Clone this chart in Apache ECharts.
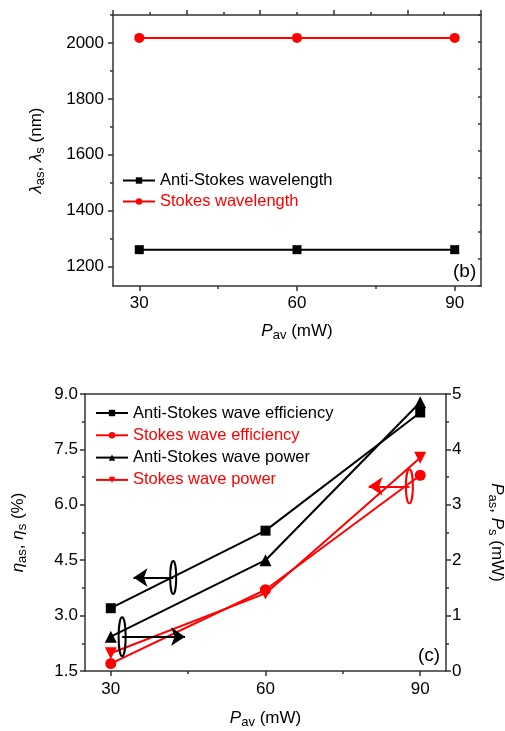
<!DOCTYPE html>
<html>
<head>
<meta charset="utf-8">
<script src="https://cdn.jsdelivr.net/npm/echarts@6/dist/echarts.min.js"></script>
<style>
  html, body { margin: 0; padding: 0; background: #fff; }
  #chart { width: 505px; height: 731px; }
</style>
</head>
<body>
<div id="chart"></div>
<script>
// Average pump power (mW)
const pav = [30, 60, 90];
// Panel (b): output wavelengths (nm)
const antiStokesWavelength = [1260, 1260, 1260];
const stokesWavelength = [2018, 2018, 2018];
// Panel (c): conversion efficiencies (%) and output powers (mW)
const antiStokesEfficiency = [3.2, 5.3, 8.5];
const stokesEfficiency = [1.7, 3.7, 6.8];
const antiStokesPower = [0.62, 2.0, 4.85];
const stokesPower = [0.32, 1.4, 3.85];
// Tick values
const pavTicks = [30, 60, 90];
const pavMinorTicks = [45, 75];
const wavelengthTicks = [1200, 1400, 1600, 1800, 2000];
const wavelengthMinorTicks = [1300, 1500, 1700, 1900, 2100];

const F = "'Liberation Sans', Arial, sans-serif";
const AX = '#333';
const RED = '#ff0000';
const zip = (xs, ys) => xs.map((x, i) => [x, ys[i]]);
const downTriangle = 'path://M0,0L10,0L5,9Z';

const nameRich = {
  i: { fontStyle: 'italic', fontSize: 17, fontFamily: F, color: '#000' },
  sub: { fontSize: 13, fontFamily: F, color: '#000', padding: [9, 0, 0, 0] },
  t: { fontSize: 17, fontFamily: F, color: '#000' }
};
const labelStyle = { fontSize: 17, fontFamily: F, color: '#000' };
const line = { show: true, lineStyle: { color: AX, width: 1.5 } };
const noLine = { show: false };
const noLabel = { show: false };
const noSplit = { show: false };

// Ellipse drawn around a pair of curves: value = [x, y, width px, height px]
function ellipseItem(color) {
  return function (params, api) {
    const c = api.coord([api.value(0), api.value(1)]);
    return {
      type: 'ellipse',
      shape: { cx: c[0], cy: c[1], rx: api.value(2) / 2, ry: api.value(3) / 2 },
      style: { fill: 'none', stroke: color, lineWidth: 2 }
    };
  };
}

const chart = echarts.init(document.getElementById('chart'), null, { renderer: 'canvas' });

chart.setOption({
  animation: false,
  backgroundColor: '#fff',
  grid: [
    { left: 113, top: 15, right: 24, height: 271, outerBoundsMode: 'none', containLabel: false },
    { left: 85, top: 394, width: 361, height: 277, outerBoundsMode: 'none', containLabel: false }
  ],
  title: [
    { text: '(b)', left: 448, top: 257, textStyle: { fontSize: 19, fontWeight: 'normal', fontFamily: F, color: '#000', lineHeight: 19 } },
    { text: '(c)', left: 413, top: 641, textStyle: { fontSize: 19, fontWeight: 'normal', fontFamily: F, color: '#000', lineHeight: 19 } }
  ],
  legend: [
    {
      data: [
        { name: 'Anti-Stokes wavelength', textStyle: { color: '#000' } },
        { name: 'Stokes wavelength', textStyle: { color: RED } }
      ],
      orient: 'vertical', left: 117, top: 167, itemWidth: 32, itemHeight: 8, itemGap: 4,
      textStyle: { fontSize: 16.5, fontFamily: F, lineHeight: 16 }
    },
    {
      data: [
        { name: 'Anti-Stokes wave efficiency', textStyle: { color: '#000' } },
        { name: 'Stokes wave efficiency', textStyle: { color: RED } },
        { name: 'Anti-Stokes wave power', textStyle: { color: '#000' } },
        { name: 'Stokes wave power', textStyle: { color: RED } }
      ],
      orient: 'vertical', left: 90, top: 399.5, itemWidth: 32, itemHeight: 8, itemGap: 5.3,
      textStyle: { fontSize: 16.5, fontFamily: F, lineHeight: 16 }
    }
  ],
  xAxis: [
    // panel (b) bottom axis
    {
      gridIndex: 0, type: 'value', position: 'bottom', min: 25, max: 95,
      axisLine: line, splitLine: noSplit,
      axisTick: { show: true, length: 5, customValues: pavTicks, lineStyle: { color: AX, width: 1.5 } },
      axisLabel: { customValues: pavTicks, margin: 9, ...labelStyle },
      name: '{i|P}{sub|av}{t| (mW)}', nameLocation: 'middle', nameGap: 34,
      nameTextStyle: { rich: nameRich }
    },
    {
      gridIndex: 0, type: 'value', position: 'bottom', min: 25, max: 95,
      axisLine: noLine, splitLine: noSplit, axisLabel: noLabel,
      axisTick: { show: true, length: 3, customValues: pavMinorTicks, lineStyle: { color: AX, width: 1.5 } }
    },
    // panel (b) top frame
    {
      gridIndex: 0, type: 'value', position: 'top', min: 0, max: 5, interval: 1,
      axisLine: line, splitLine: noSplit, axisLabel: noLabel,
      axisTick: { show: true, length: 5, lineStyle: { color: AX, width: 1.5 } },
      minorTick: { show: true, splitNumber: 2, length: 3, lineStyle: { color: AX, width: 1.5 } }
    },
    // panel (c) bottom axis
    {
      gridIndex: 1, type: 'value', position: 'bottom', min: 25, max: 95,
      axisLine: line, splitLine: noSplit,
      axisTick: { show: true, length: 5, customValues: pavTicks, lineStyle: { color: AX, width: 1.5 } },
      axisLabel: { customValues: pavTicks, margin: 10, ...labelStyle },
      name: '{i|P}{sub|av}{t| (mW)}', nameLocation: 'middle', nameGap: 36,
      nameTextStyle: { rich: nameRich }
    },
    {
      gridIndex: 1, type: 'value', position: 'bottom', min: 25, max: 95,
      axisLine: noLine, splitLine: noSplit, axisLabel: noLabel,
      axisTick: { show: true, length: 3, customValues: pavMinorTicks, lineStyle: { color: AX, width: 1.5 } }
    },
    // panel (c) top frame
    {
      gridIndex: 1, type: 'value', position: 'top', min: 0, max: 1,
      axisLine: line, splitLine: noSplit, axisLabel: noLabel, axisTick: { show: false }
    }
  ],
  yAxis: [
    // panel (b) wavelength axis
    {
      gridIndex: 0, type: 'value', position: 'left', min: 1130, max: 2100,
      axisLine: line, splitLine: noSplit,
      axisTick: { show: true, length: 5, customValues: wavelengthTicks, lineStyle: { color: AX, width: 1.5 } },
      axisLabel: { customValues: wavelengthTicks, margin: 9, formatter: v => String(v), ...labelStyle },
      name: '{i|λ}{sub|as}{t|, }{i|λ}{sub|s}{t| (nm)}', nameLocation: 'middle', nameGap: 66,
      nameTextStyle: { rich: nameRich }
    },
    {
      gridIndex: 0, type: 'value', position: 'left', min: 1130, max: 2100,
      axisLine: noLine, splitLine: noSplit, axisLabel: noLabel,
      axisTick: { show: true, length: 3, customValues: wavelengthMinorTicks, lineStyle: { color: AX, width: 1.5 } }
    },
    // panel (b) right frame
    {
      gridIndex: 0, type: 'value', position: 'right', min: 0, max: 10, interval: 1,
      axisLine: line, splitLine: noSplit, axisLabel: noLabel,
      axisTick: { show: true, inside: true, length: 3, lineStyle: { color: AX, width: 1.5 } }
    },
    // panel (c) efficiency axis
    {
      gridIndex: 1, type: 'value', position: 'left', min: 1.5, max: 9, interval: 1.5,
      axisLine: line, splitLine: noSplit,
      axisTick: { show: true, length: 5, lineStyle: { color: AX, width: 1.5 } },
      minorTick: { show: true, splitNumber: 2, length: 3, lineStyle: { color: AX, width: 1.5 } },
      axisLabel: { margin: 7, formatter: v => v.toFixed(1), ...labelStyle },
      name: '{i|η}{sub|as}{t|, }{i|η}{sub|s}{t| (%)}', nameLocation: 'middle', nameGap: 56,
      nameTextStyle: { rich: nameRich }
    },
    // panel (c) power axis
    {
      gridIndex: 1, type: 'value', position: 'right', min: 0, max: 5, interval: 1,
      axisLine: line, splitLine: noSplit,
      axisTick: { show: true, length: 5, lineStyle: { color: AX, width: 1.5 } },
      minorTick: { show: true, splitNumber: 2, length: 3, lineStyle: { color: AX, width: 1.5 } },
      axisLabel: { margin: 6, ...labelStyle },
      name: '{i|P}{sub|as}{t|, }{i|P}{sub|s}{t| (mW)}', nameLocation: 'middle', nameGap: 40, nameRotate: -90,
      nameTextStyle: { rich: nameRich }
    }
  ],
  series: [
    {
      name: 'Anti-Stokes wavelength', type: 'line', xAxisIndex: 0, yAxisIndex: 0,
      data: zip(pav, antiStokesWavelength), symbol: 'rect', symbolSize: 9,
      lineStyle: { color: '#000', width: 2 }, itemStyle: { color: '#000' }
    },
    {
      name: 'Stokes wavelength', type: 'line', xAxisIndex: 0, yAxisIndex: 0,
      data: zip(pav, stokesWavelength), symbol: 'circle', symbolSize: 10,
      lineStyle: { color: RED, width: 2 }, itemStyle: { color: RED }
    },
    {
      name: 'Anti-Stokes wave efficiency', type: 'line', xAxisIndex: 3, yAxisIndex: 3,
      data: zip(pav, antiStokesEfficiency), symbol: 'rect', symbolSize: 10,
      lineStyle: { color: '#000', width: 2 }, itemStyle: { color: '#000' }
    },
    {
      name: 'Stokes wave efficiency', type: 'line', xAxisIndex: 3, yAxisIndex: 3,
      data: zip(pav, stokesEfficiency), symbol: 'circle', symbolSize: 11,
      lineStyle: { color: RED, width: 2 }, itemStyle: { color: RED }
    },
    {
      name: 'Anti-Stokes wave power', type: 'line', xAxisIndex: 3, yAxisIndex: 4,
      data: zip(pav, antiStokesPower), symbol: 'triangle', symbolSize: 12,
      lineStyle: { color: '#000', width: 2 }, itemStyle: { color: '#000' }
    },
    {
      name: 'Stokes wave power', type: 'line', xAxisIndex: 3, yAxisIndex: 4,
      data: zip(pav, stokesPower), symbol: downTriangle, symbolSize: 12,
      lineStyle: { color: RED, width: 2 }, itemStyle: { color: RED }
    },
    // Axis-assignment markers: ellipses around curve pairs with arrows pointing to their axis
    {
      name: 'black markers', type: 'custom', xAxisIndex: 3, yAxisIndex: 3, silent: true, z: 5,
      renderItem: ellipseItem('#000'),
      data: [[42.1, 4.03, 6, 33], [32.2, 2.43, 7, 39]],
      markLine: {
        silent: true, symbol: ['none', 'arrow'], symbolSize: 14, precision: 3,
        label: { show: false }, emphasis: { disabled: true },
        lineStyle: { color: '#000', width: 2, type: 'solid' },
        data: [
          [{ coord: [42.1, 4.03] }, { coord: [34.4, 4.03] }],
          [{ coord: [32.2, 2.43] }, { coord: [44.4, 2.43] }]
        ]
      }
    },
    {
      name: 'red markers', type: 'custom', xAxisIndex: 3, yAxisIndex: 3, silent: true, z: 5,
      renderItem: ellipseItem(RED),
      data: [[87.9, 6.5, 7, 34]],
      markLine: {
        silent: true, symbol: ['none', 'arrow'], symbolSize: 14, precision: 3,
        label: { show: false }, emphasis: { disabled: true },
        lineStyle: { color: RED, width: 2, type: 'solid' },
        data: [
          [{ coord: [87.9, 6.5] }, { coord: [80.0, 6.5] }]
        ]
      }
    }
  ]
});
</script>
</body>
</html>
